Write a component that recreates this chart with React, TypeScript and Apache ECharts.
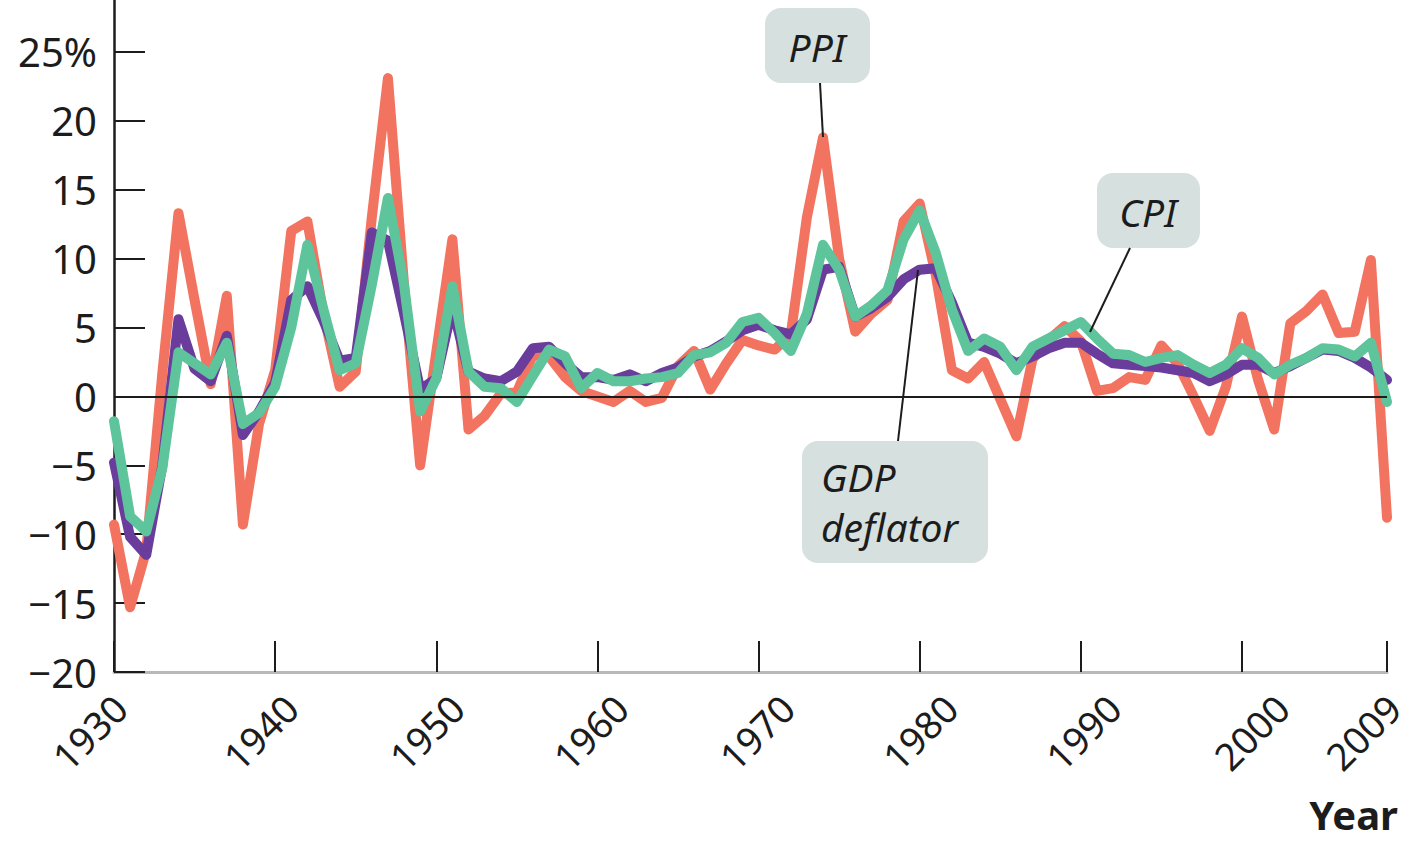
import React, { useEffect, useRef } from "react";
import * as echarts from "echarts";

const FIRST_YEAR = 1930;
const LAST_YEAR = 2009;

const PPI = [
  -9.3, -15.3, -11.2, 1.7, 13.3, 7.0, 0.9, 7.3, -9.3, -2.0,
  1.9, 12.0, 12.7, 6.0, 0.7, 1.8, 13.0, 23.1, 8.1, -5.0,
  3.2, 11.4, -2.4, -1.4, 0.2, 0.3, 3.0, 2.9, 1.4, 0.4,
  0.0, -0.4, 0.4, -0.4, -0.1, 2.2, 3.3, 0.5, 2.4, 4.1,
  3.7, 3.4, 4.5, 13.0, 18.8, 10.0, 4.7, 6.0, 7.0, 12.7,
  14.0, 8.8, 1.9, 1.3, 2.5, -0.2, -2.9, 2.7, 4.1, 5.1,
  4.0, 0.4, 0.6, 1.4, 1.2, 3.7, 2.4, 0.0, -2.5, 0.7,
  5.8, 1.2, -2.4, 5.3, 6.2, 7.4, 4.6, 4.7, 9.9, -8.8,
];

const GDP_DEFLATOR = [
  -4.8, -10.2, -11.5, -5.0, 5.6, 2.0, 1.1, 4.4, -2.8, -1.1,
  1.0, 7.0, 8.0, 5.5, 2.6, 2.8, 11.9, 11.3, 6.0, 0.5,
  1.3, 6.5, 1.8, 1.3, 1.1, 1.8, 3.5, 3.6, 2.4, 1.4,
  1.4, 1.2, 1.6, 1.1, 1.7, 2.1, 2.9, 3.3, 4.0, 4.8,
  5.2, 4.8, 4.5, 5.6, 9.2, 9.4, 5.8, 6.4, 7.2, 8.5,
  9.2, 9.3, 6.8, 3.9, 3.6, 3.1, 2.4, 2.9, 3.5, 3.9,
  3.9, 3.1, 2.4, 2.3, 2.2, 2.1, 1.9, 1.7, 1.1, 1.6,
  2.3, 2.3, 1.7, 2.2, 2.8, 3.4, 3.3, 2.8, 2.1, 1.2,
];

const CPI = [
  -1.8, -8.7, -9.8, -5.2, 3.2, 2.4, 1.6, 3.9, -2.0, -1.2,
  0.7, 5.0, 11.0, 6.3, 1.9, 2.4, 8.1, 14.4, 8.1, -1.1,
  1.3, 8.0, 1.8, 0.7, 0.6, -0.4, 1.5, 3.4, 2.9, 0.6,
  1.7, 1.1, 1.1, 1.3, 1.4, 1.7, 3.0, 3.2, 3.9, 5.4,
  5.7, 4.6, 3.3, 6.0, 11.0, 9.2, 5.8, 6.6, 7.7, 11.4,
  13.5, 10.4, 6.3, 3.3, 4.2, 3.6, 1.9, 3.6, 4.2, 4.8,
  5.4, 4.2, 3.1, 3.0, 2.5, 2.8, 3.0, 2.3, 1.7, 2.3,
  3.5, 2.8, 1.6, 2.3, 2.8, 3.5, 3.4, 2.9, 3.9, -0.4,
];

const X_TICKS = [1930, 1940, 1950, 1960, 1970, 1980, 1990, 2000, 2009];
const Y_TICKS = [-20, -15, -10, -5, 0, 5, 10, 15, 20, 25];

// horizontal nudge (px) of each rotated year label relative to its tick, as placed in the original
const X_LABEL_NUDGE = [-25, -15, -10, -7, -2, 0, 2, 9, -24];

const YEARS = Array.from({ length: LAST_YEAR - FIRST_YEAR + 1 }, (_, i) => FIRST_YEAR + i);

const FONT = '"Noto Sans", "Open Sans", sans-serif';
const C_PPI = "#F2735F";
const C_GDP = "#6A3D9C";
const C_CPI = "#5DC49C";
const BOX = "#D6E0DE";
const INK = "#1c1c1c";

function pairs(vals: number[]) {
  return YEARS.map((y, i) => [y, vals[i]]);
}

// padding that shifts a 45°-rotated, centered label horizontally by dx pixels
function nudgePadding(dx: number) {
  const p = Math.round(Math.abs(dx) * Math.SQRT2);
  return dx < 0 ? [0, p, p, 0] : [p, 0, 0, p];
}

export default function App() {
  const ref = useRef<HTMLDivElement>(null);
  useEffect(() => {
    if (!ref.current) return;
    const chart = echarts.init(ref.current, undefined, { renderer: "svg" });
    const lineSeries = (name: string, vals: number[], color: string, z: number) => ({
      name,
      type: "line",
      data: pairs(vals),
      showSymbol: false,
      symbol: "none",
      z,
      lineStyle: { color, width: 10, cap: "round", join: "round" },
      emphasis: { disabled: true },
    });
    const rich: Record<string, any> = {};
    X_TICKS.forEach((_, i) => {
      rich["n" + i] = {
        fontSize: 38,
        fontFamily: FONT,
        color: INK,
        padding: nudgePadding(X_LABEL_NUDGE[i]),
      };
    });
    const italic = { fontFamily: FONT, fontStyle: "italic", fontSize: 39, fill: INK, verticalAlign: "middle" };
    chart.setOption({
      animation: false,
      grid: { left: 114, right: 29, top: 0, bottom: 171, outerBoundsMode: "none", containLabel: false },
      xAxis: {
        type: "value",
        min: FIRST_YEAR,
        max: LAST_YEAR,
        axisLine: { show: true, onZero: false, lineStyle: { color: "#b9b9b9", width: 3 } },
        axisTick: {
          show: true,
          inside: true,
          length: 31,
          customValues: X_TICKS,
          lineStyle: { color: INK, width: 2 },
        },
        axisLabel: {
          customValues: X_TICKS,
          rotate: 45,
          align: "center",
          verticalAlign: "middle",
          fontSize: 38,
          fontFamily: FONT,
          color: INK,
          margin: 60,
          hideOverlap: false,
          formatter: (v: number) => {
            const i = X_TICKS.indexOf(v);
            return i >= 0 ? `{n${i}|${v}}` : String(v);
          },
          rich,
        },
        splitLine: { show: false },
      },
      yAxis: {
        type: "value",
        min: -20,
        max: 28.77,
        axisLine: { show: true, onZero: false, lineStyle: { color: INK, width: 2.5 } },
        axisTick: {
          show: true,
          inside: true,
          length: 31,
          customValues: Y_TICKS,
          lineStyle: { color: INK, width: 2 },
        },
        axisLabel: {
          customValues: Y_TICKS,
          fontSize: 40,
          fontFamily: FONT,
          color: INK,
          margin: 17,
          formatter: (v: number) =>
            v === 25 ? "25%" : v < 0 ? "\u2212" + Math.abs(v) : String(v),
        },
        splitLine: { show: false },
      },
      series: [
        lineSeries("PPI", PPI, C_PPI, 2),
        lineSeries("GDP deflator", GDP_DEFLATOR, C_GDP, 3),
        lineSeries("CPI", CPI, C_CPI, 4),
        {
          type: "line",
          data: [],
          z: 6,
          markLine: {
            silent: true,
            symbol: "none",
            label: { show: false },
            lineStyle: { color: INK, width: 2, type: "solid" },
            data: [{ yAxis: 0 }],
          },
        },
      ],
      graphic: [
        { type: "rect", z: 100, shape: { x: 765, y: 8, width: 105, height: 75, r: 16 }, style: { fill: BOX } },
        { type: "text", z: 101, x: 817, y: 46, style: { ...italic, text: "PPI", align: "center" } },
        { type: "line", z: 100, shape: { x1: 820, y1: 83, x2: 823, y2: 137 }, style: { stroke: INK, lineWidth: 2 } },

        { type: "rect", z: 100, shape: { x: 1097, y: 173, width: 103, height: 75, r: 16 }, style: { fill: BOX } },
        { type: "text", z: 101, x: 1148, y: 211, style: { ...italic, text: "CPI", align: "center" } },
        { type: "line", z: 100, shape: { x1: 1130, y1: 248, x2: 1090, y2: 332 }, style: { stroke: INK, lineWidth: 2 } },

        { type: "rect", z: 100, shape: { x: 802, y: 441, width: 186, height: 122, r: 16 }, style: { fill: BOX } },
        { type: "text", z: 101, x: 821, y: 476, style: { ...italic, text: "GDP", align: "left" } },
        { type: "text", z: 101, x: 821, y: 526, style: { ...italic, text: "deflator", align: "left" } },
        { type: "line", z: 100, shape: { x1: 898, y1: 441, x2: 918, y2: 270 }, style: { stroke: INK, lineWidth: 2 } },

        {
          type: "text", z: 101, x: 1398, y: 814,
          style: { text: "Year", fontFamily: FONT, fontWeight: "bold", fontSize: 40, lineHeight: 40, fill: INK, align: "right", verticalAlign: "middle" },
        },
      ],
    });
    return () => chart.dispose();
  }, []);
  return (
    <div
      ref={ref}
      style={{ position: "fixed", left: 0, top: 0, width: 1416, height: 843, background: "#fff" }}
    />
  );
}
